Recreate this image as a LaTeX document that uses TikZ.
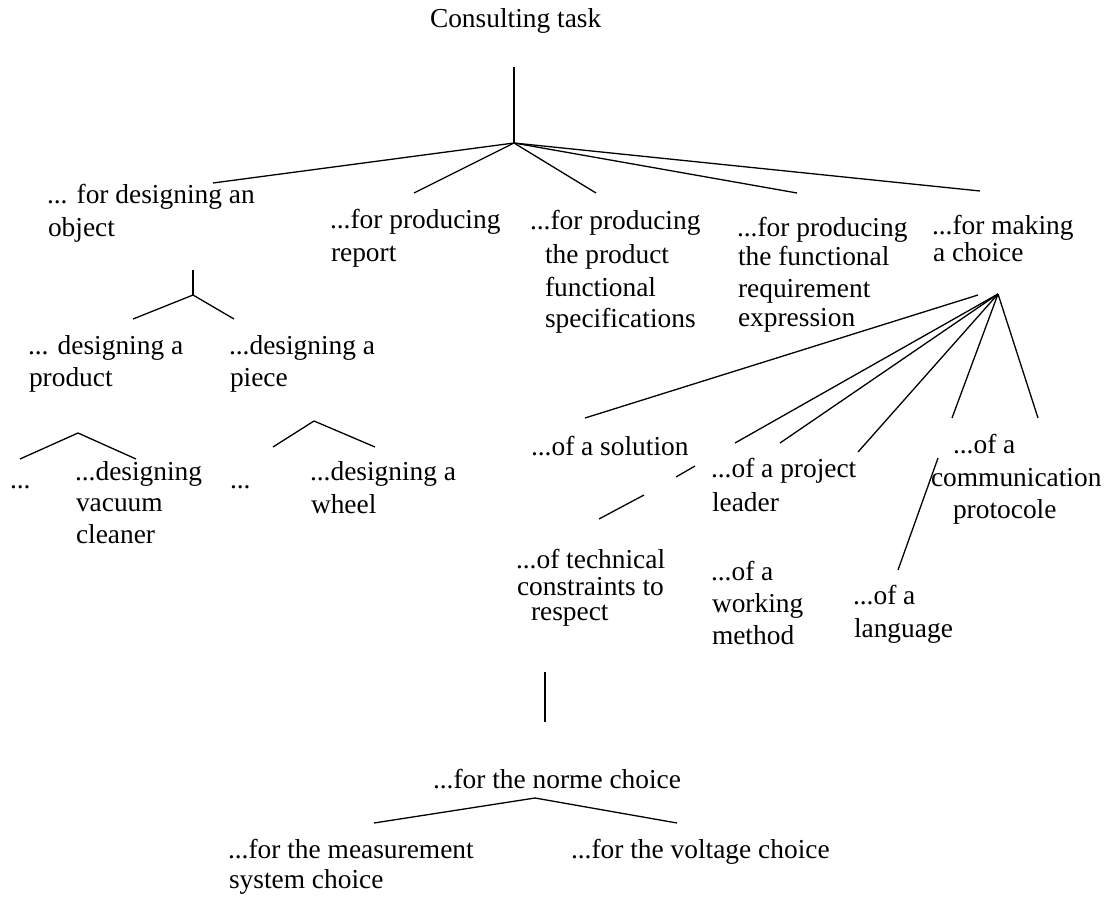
\documentclass[tikz,border=0pt]{standalone}
\usepackage{fontspec}
\setmainfont{Liberation Serif}
\newcommand\lblfont{\fontsize{27.4}{32}\selectfont}
\tikzset{
  txt/.style={anchor=base west, inner sep=0pt, outer sep=0pt, font=\lblfont},
  link/.style={draw=black, line width=1.3pt}
}
\begin{document}
\begin{tikzpicture}[x=1pt, y=-1pt]
\useasboundingbox (0,0) rectangle (1107,896);
% ---------- text ----------
\node[txt] (root) at (430,27.5) {Consulting task};
\node[txt] (c1a) at (47,203) {... for designing an};
\node[txt] (c1b) at (48,236) {object};
\node[txt] (c2a) at (330,228) {...for producing};
\node[txt] (c2b) at (331,261) {report};
\node[txt] (c3a) at (530,229) {...for producing};
\node[txt] (c3b) at (545,263) {the product};
\node[txt] (c3c) at (545,296) {functional};
\node[txt] (c3d) at (545,327) {specifications};
\node[txt] (c4a) at (737,236) {...for producing};
\node[txt] (c4b) at (738,265) {the functional};
\node[txt] (c4c) at (738,297) {requirement};
\node[txt] (c4d) at (738,326) {expression};
\node[txt] (c5a) at (932,234) {...for making};
\node[txt] (c5b) at (933,261) {a choice};
\node[txt] (pa) at (28,354) {... designing a};
\node[txt] (pb) at (29,386) {product};
\node[txt] (qa) at (229,354) {...designing a};
\node[txt] (qb) at (230,386) {piece};
\node[txt] (d1) at (10,488) {...};
\node[txt] (va) at (75,480) {...designing};
\node[txt] (vb) at (76,511) {vacuum};
\node[txt] (vc) at (76,543) {cleaner};
\node[txt] (d2) at (230,488) {...};
\node[txt] (wa) at (310,480) {...designing a};
\node[txt] (wb) at (311,513) {wheel};
\node[txt] (sol) at (531,455) {...of a solution};
\node[txt] (pla) at (711,477) {...of a project};
\node[txt] (plb) at (712,511) {leader};
\node[txt] (cma) at (953,453) {...of a};
\node[txt] (cmb) at (931,486) {communication};
\node[txt] (cmc) at (953,518) {protocole};
\node[txt] (tca) at (516,568) {...of technical};
\node[txt] (tcb) at (517,595) {constraints to};
\node[txt] (tcc) at (531,620) {respect};
\node[txt] (wma) at (711,580) {...of a};
\node[txt] (wmb) at (712,612) {working};
\node[txt] (wmc) at (712,644) {method};
\node[txt] (lga) at (853,604) {...of a};
\node[txt] (lgb) at (854,637) {language};
\node[txt] (nrm) at (433,788) {...for the norme choice};
\node[txt] (msa) at (228,858) {...for the measurement};
\node[txt] (msb) at (229,888) {system choice};
\node[txt] (vlt) at (571,858) {...for the voltage choice};
% ---------- connector points ----------
\coordinate (rtop) at (514,67);
\coordinate (rhub) at (514,143);
\coordinate (e1) at (213,183);
\coordinate (e2) at (414,193);
\coordinate (e3) at (596,193);
\coordinate (e4) at (797,193);
\coordinate (e5) at (980,191);
\coordinate (otop) at (193,270);
\coordinate (ohub) at (193,295);
\coordinate (ol) at (133,319);
\coordinate (or) at (234,319);
\coordinate (phub) at (78,433);
\coordinate (pl) at (20,459);
\coordinate (pr) at (136,459);
\coordinate (qhub) at (314,421);
\coordinate (ql) at (273,447);
\coordinate (qr) at (375,447);
\coordinate (chub) at (998,294);
\coordinate (cs) at (978,295);
\coordinate (f0) at (585,418);
\coordinate (f1) at (735,443);
\coordinate (f2) at (780,443);
\coordinate (f3) at (858,452);
\coordinate (f4) at (952,418);
\coordinate (f5) at (1038,418);
\coordinate (b1) at (695,466);
\coordinate (b2) at (676,477);
\coordinate (b3) at (644,495);
\coordinate (b4) at (599,519);
\coordinate (lg1) at (938,458);
\coordinate (lg2) at (898,570);
\coordinate (vt1) at (545,672);
\coordinate (vt2) at (545,722);
\coordinate (nhub) at (535,798);
\coordinate (nl) at (374,823);
\coordinate (nr) at (677,823);
% ---------- connectors ----------
\draw[link] (rtop) -- (rhub);
\draw[link] (rhub) -- (e1);
\draw[link] (rhub) -- (e2);
\draw[link] (rhub) -- (e3);
\draw[link] (rhub) -- (e4);
\draw[link] (rhub) -- (e5);
\draw[link] (otop) -- (ohub);
\draw[link] (ohub) -- (ol);
\draw[link] (ohub) -- (or);
\draw[link] (phub) -- (pl);
\draw[link] (phub) -- (pr);
\draw[link] (qhub) -- (ql);
\draw[link] (qhub) -- (qr);
\draw[link] (cs) -- (f0);
\draw[link] (chub) -- (f1);
\draw[link] (chub) -- (f2);
\draw[link] (chub) -- (f3);
\draw[link] (chub) -- (f4);
\draw[link] (chub) -- (f5);
\draw[link] (b1) -- (b2);
\draw[link] (b3) -- (b4);
\draw[link] (lg1) -- (lg2);
\draw[link] (vt1) -- (vt2);
\draw[link] (nhub) -- (nl);
\draw[link] (nhub) -- (nr);
\end{tikzpicture}
\end{document}
